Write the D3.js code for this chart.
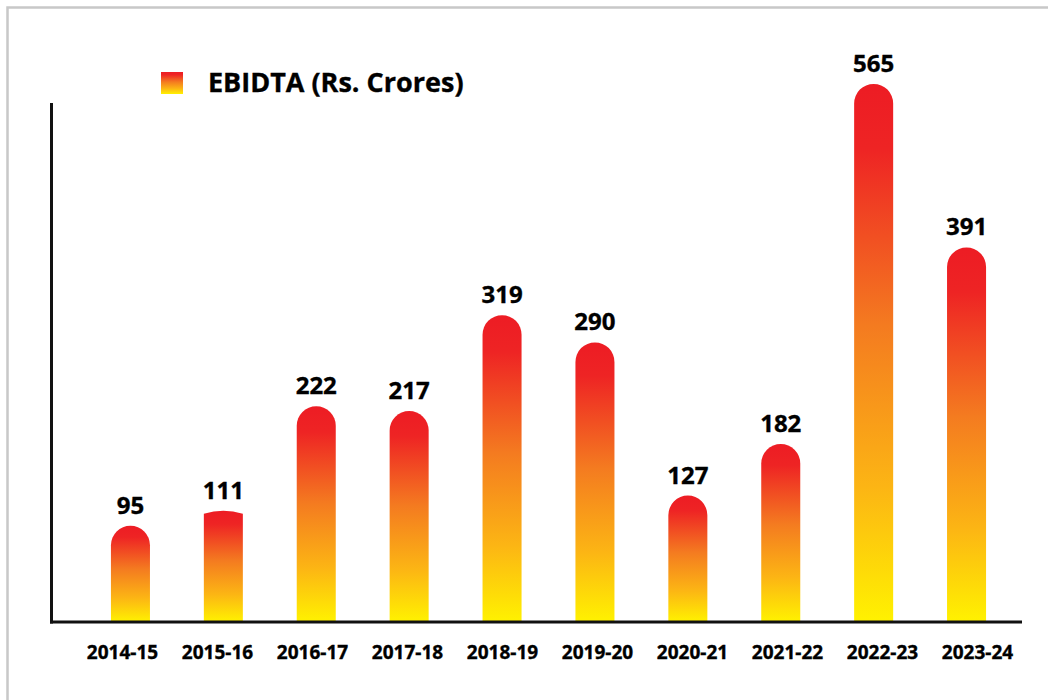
<!DOCTYPE html>
<html>
<head>
<meta charset="utf-8">
<script src="https://cdn.jsdelivr.net/npm/d3@7"></script>
<style>
  body { margin: 0; background: #fff; }
  text { font-family: "Open Sans", Lato, sans-serif; font-weight: 700; fill: #000; stroke: #000; stroke-width: 0.35px; }
</style>
</head>
<body>
<script>
var width = 1048,
    height = 700;

// data
var years = ["2014-15", "2015-16", "2016-17", "2017-18", "2018-19",
             "2019-20", "2020-21", "2021-22", "2022-23", "2023-24"];
var ebidta = [95, 111, 222, 217, 319, 290, 127, 182, 565, 391];
var seriesName = "EBIDTA (Rs. Crores)";
var flatTopYears = ["2015-16"];   // this bar has a flat-ish cap in the original

var baseY = 622;

var x = d3.scaleBand()
    .domain(years)
    .range([84, 1013])
    .paddingInner(0.58)
    .paddingOuter(0.29);

// category labels sit on a slightly wider spread than the bars
var xLabel = d3.scalePoint()
    .domain(years)
    .range([122, 977]);

var y = d3.scaleLinear()
    .domain([0, 600])
    .range([615, 51]);

var svg = d3.select("body").append("svg")
    .attr("width", width)
    .attr("height", height);

var defs = svg.append("defs");
var grad = defs.append("linearGradient")
    .attr("id", "barGrad")
    .attr("x1", 0).attr("y1", 0)
    .attr("x2", 0).attr("y2", 1);
[[0, "#ed1c24"], [0.12, "#ee2424"], [0.45, "#f47b20"], [0.75, "#fcb514"], [1, "#fff200"]]
  .forEach(function(s) {
    grad.append("stop").attr("offset", s[0]).attr("stop-color", s[1]);
  });

// outer frame
svg.append("rect")
    .attr("x", 7.5).attr("y", 7.5)
    .attr("width", 1060).attr("height", 710)
    .attr("fill", "none")
    .attr("stroke", "#c8c8c8")
    .attr("stroke-width", 2.5);

function barPath(d, i) {
  var bw = x.bandwidth(),
      x0 = x(years[i]),
      x1 = x0 + bw,
      top = y(d),
      r = bw / 2;
  if (flatTopYears.indexOf(years[i]) >= 0) {
    var c = 3;
    return "M" + x0 + "," + baseY +
      "L" + x0 + "," + (top + c) +
      "Q" + (x0 + r) + "," + (top - c) + " " + x1 + "," + (top + c) +
      "L" + x1 + "," + baseY + "Z";
  }
  return "M" + x0 + "," + baseY +
    "L" + x0 + "," + (top + r) +
    "A" + r + "," + r + " 0 0 1 " + x1 + "," + (top + r) +
    "L" + x1 + "," + baseY + "Z";
}

svg.append("g").selectAll("path")
    .data(ebidta)
  .enter().append("path")
    .attr("d", barPath)
    .attr("fill", "url(#barGrad)");

// value labels
svg.append("g").selectAll("text")
    .data(ebidta)
  .enter().append("text")
    .attr("x", function(d, i) { return x(years[i]) + x.bandwidth() / 2; })
    .attr("y", function(d) { return y(d) - 12; })
    .attr("text-anchor", "middle")
    .style("font-size", "24px")
    .text(function(d) { return d; });

// axes lines
svg.append("line")
    .attr("x1", 51.5).attr("x2", 51.5)
    .attr("y1", 103).attr("y2", baseY + 1.5)
    .attr("stroke", "#111").attr("stroke-width", 3);
svg.append("line")
    .attr("x1", 50).attr("x2", 1022)
    .attr("y1", baseY).attr("y2", baseY)
    .attr("stroke", "#111").attr("stroke-width", 3);

// category labels
var xAxis = d3.axisBottom(xLabel).tickSize(0).tickPadding(0);
var gx = svg.append("g")
    .attr("transform", "translate(0," + 659 + ")")
    .call(xAxis);
gx.select(".domain").remove();
gx.selectAll("text")
    .attr("dy", 0)
    .attr("y", 0)
    .style("font-size", "19px")
    .style("font-family", "'Open Sans', Lato, sans-serif")
    .style("font-weight", 700)
    .attr("fill", "#000");

// legend
svg.append("rect")
    .attr("x", 161).attr("y", 72)
    .attr("width", 22).attr("height", 22)
    .attr("fill", "url(#barGrad)");
svg.append("text")
    .attr("x", 208).attr("y", 92)
    .style("font-size", "27px")
    .text(seriesName);
</script>
</body>
</html>
